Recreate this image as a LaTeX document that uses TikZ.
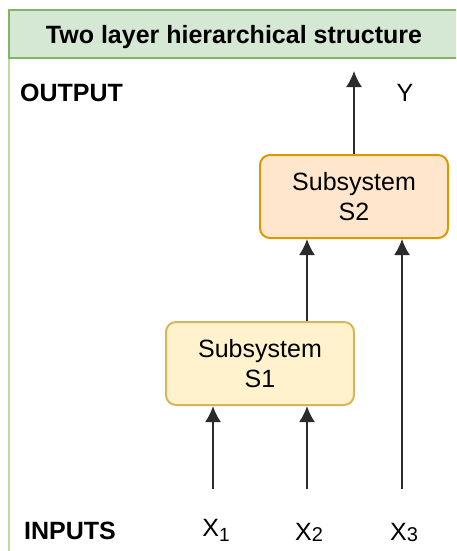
\documentclass[tikz,border=0pt]{standalone}
\usepackage{fontspec}
\setmainfont{Liberation Sans}
\usetikzlibrary{arrows.meta}
\definecolor{hdrfill}{HTML}{D5E8D4}
\definecolor{hdrline}{HTML}{82B366}
\definecolor{bodyline}{HTML}{B9DCA5}
\definecolor{sonefill}{HTML}{FFF2CC}
\definecolor{soneline}{HTML}{D6B656}
\definecolor{stwofill}{HTML}{FFE6CC}
\definecolor{stwoline}{HTML}{D79B00}
\definecolor{arrowc}{HTML}{2B2B2B}
\tikzset{
  txt/.style={font=\fontsize{25}{27}\selectfont, inner sep=0pt},
  boldtxt/.style={font=\fontsize{25}{27}\selectfont\bfseries, inner sep=0pt},
  subsys/.style={rounded corners=10pt, line width=2pt, align=center, font=\fontsize{25}{30}\selectfont, inner sep=0pt},
  conn/.style={draw=arrowc, line width=2pt, -{Latex[length=16pt,width=16pt]}},
}
\begin{document}
\begin{tikzpicture}[x=1pt,y=-1pt]
\useasboundingbox (0,0) rectangle (456,551);
\clip (0,0) rectangle (456,551);
\fill[white] (0,0) rectangle (456,551);
% frame body
\draw[bodyline, line width=1.5pt] (9,58) -- (9,570);
\draw[bodyline, line width=1.5pt] (470,58) -- (470,570);
% header
\draw[hdrline, fill=hdrfill, line width=1.5pt] (9,10) rectangle (470,58);
\node[boldtxt] (title) at (234,37) {Two layer hierarchical structure};
% labels
\node[boldtxt, anchor=west] (output) at (20,93) {OUTPUT};
\node[boldtxt, anchor=west] (inputs) at (24,531) {INPUTS};
\node[txt] (y) at (405,93) {Y};
\node[txt] (x1) at (216,530) {X\raisebox{-5pt}{\fontsize{19}{19}\selectfont 1}};
\node[txt] (x2) at (309,532) {X\raisebox{-1pt}{\fontsize{20}{20}\selectfont 2}};
\node[txt] (x3) at (404,532) {X\raisebox{-1pt}{\fontsize{20}{20}\selectfont 3}};
% subsystems
\node[subsys, draw=stwoline, fill=stwofill, minimum width=188pt, minimum height=83pt] (s2) at (354,196.5) {Subsystem\\S2};
\node[subsys, draw=soneline, fill=sonefill, minimum width=188pt, minimum height=83pt] (s1) at (260,363.5) {Subsystem\\S1};
\coordinate (ytop) at (354,71);
\coordinate (b1) at (213,489);
\coordinate (b2) at (307,489);
\coordinate (b3) at (402,489);
% connectors
\draw[conn] (s2.north) -- (ytop);
\draw[conn] (s1.north -| b2) -- (s2.south -| b2);
\draw[conn] (b3) -- (s2.south -| b3);
\draw[conn] (b1) -- (s1.south -| b1);
\draw[conn] (b2) -- (s1.south -| b2);
\end{tikzpicture}
\end{document}
